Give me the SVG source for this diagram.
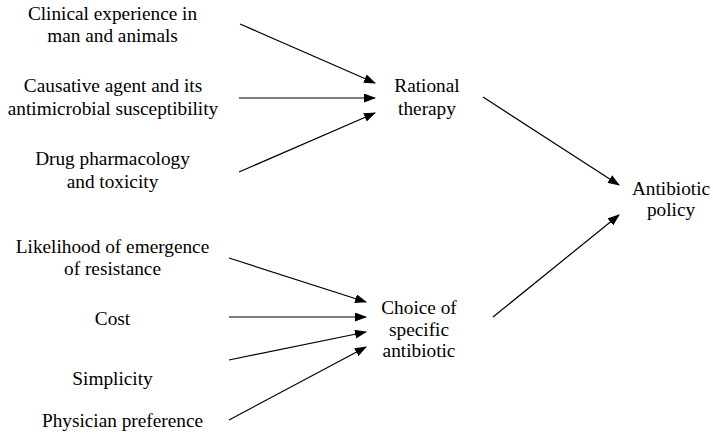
<svg xmlns="http://www.w3.org/2000/svg" width="713" height="435" viewBox="0 0 713 435">
<style>
text{font-family:'Liberation Serif','DejaVu Serif',serif;font-size:19.3px;fill:#000;text-anchor:middle}
.c line{stroke:#000;stroke-width:1.2;marker-end:url(#ah)}
</style>
<defs>
<marker id="ah" markerWidth="12" markerHeight="9" refX="11" refY="4.5" orient="auto" markerUnits="userSpaceOnUse">
<path d="M0,0 L12,4.5 L0,9 Z" fill="#000"/>
</marker>
</defs>
<rect width="713" height="435" fill="#fff"/>
<g id="n1"><text x="112.5" y="20">Clinical experience in</text><text x="112.5" y="42">man and animals</text></g>
<g id="n2"><text x="113" y="92">Causative agent and its</text><text x="113" y="115">antimicrobial susceptibility</text></g>
<g id="n3"><text x="112.5" y="165">Drug pharmacology</text><text x="112.5" y="188">and toxicity</text></g>
<g id="n4"><text x="427" y="92">Rational</text><text x="427" y="115">therapy</text></g>
<g id="n5"><text x="671" y="195">Antibiotic</text><text x="671" y="216">policy</text></g>
<g id="n6"><text x="112.5" y="253">Likelihood of emergence</text><text x="112.5" y="275">of resistance</text></g>
<g id="n7"><text x="112.5" y="325">Cost</text></g>
<g id="n8"><text x="112.5" y="385">Simplicity</text></g>
<g id="n9"><text x="122.5" y="427">Physician preference</text></g>
<g id="n10"><text x="419" y="314">Choice of</text><text x="419" y="336">specific</text><text x="419" y="357">antibiotic</text></g>
<g class="c" id="connectors">
<line x1="240" y1="24" x2="375" y2="83"/>
<line x1="239" y1="98" x2="375" y2="98"/>
<line x1="239" y1="172" x2="375" y2="113"/>
<line x1="229" y1="258" x2="366" y2="302"/>
<line x1="229" y1="317" x2="366" y2="317"/>
<line x1="229" y1="360" x2="366" y2="332"/>
<line x1="229" y1="420" x2="366" y2="347"/>
<line x1="483" y1="97" x2="619" y2="185"/>
<line x1="493" y1="317" x2="619" y2="215"/>
</g>
</svg>
